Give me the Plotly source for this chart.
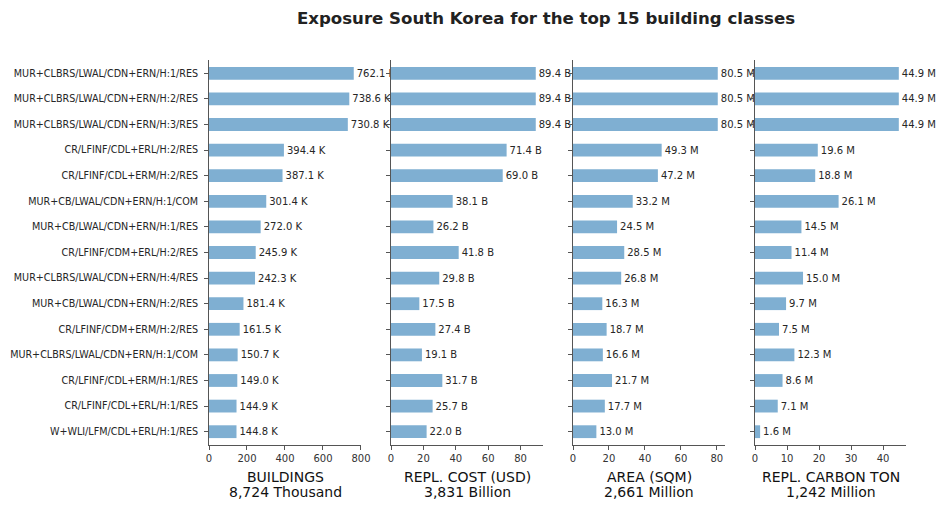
import plotly.graph_objects as go

categories = [
    "MUR+CLBRS/LWAL/CDN+ERN/H:1/RES",
    "MUR+CLBRS/LWAL/CDN+ERN/H:2/RES",
    "MUR+CLBRS/LWAL/CDN+ERN/H:3/RES",
    "CR/LFINF/CDL+ERL/H:2/RES",
    "CR/LFINF/CDL+ERM/H:2/RES",
    "MUR+CB/LWAL/CDN+ERN/H:1/COM",
    "MUR+CB/LWAL/CDN+ERN/H:1/RES",
    "CR/LFINF/CDM+ERL/H:2/RES",
    "MUR+CLBRS/LWAL/CDN+ERN/H:4/RES",
    "MUR+CB/LWAL/CDN+ERN/H:2/RES",
    "CR/LFINF/CDM+ERM/H:2/RES",
    "MUR+CLBRS/LWAL/CDN+ERN/H:1/COM",
    "CR/LFINF/CDL+ERM/H:1/RES",
    "CR/LFINF/CDL+ERL/H:1/RES",
    "W+WLI/LFM/CDL+ERL/H:1/RES",
]

buildings_k = [762.1, 738.6, 730.8, 394.4, 387.1, 301.4, 272.0, 245.9, 242.3, 181.4, 161.5, 150.7, 149.0, 144.9, 144.8]
cost_b = [89.4, 89.4, 89.4, 71.4, 69.0, 38.1, 26.2, 41.8, 29.8, 17.5, 27.4, 19.1, 31.7, 25.7, 22.0]
area_m = [80.5, 80.5, 80.5, 49.3, 47.2, 33.2, 24.5, 28.5, 26.8, 16.3, 18.7, 16.6, 21.7, 17.7, 13.0]
carbon_m = [44.9, 44.9, 44.9, 19.6, 18.8, 26.1, 14.5, 11.4, 15.0, 9.7, 7.5, 12.3, 8.6, 7.1, 1.6]

panel_titles = ["BUILDINGS", "REPL. COST (USD)", "AREA (SQM)", "REPL. CARBON TON"]
panel_totals = ["8,724 Thousand", "3,831 Billion", "2,661 Million", "1,242 Million"]
units = ["K", "B", "M", "M"]
x_ticks = [[0, 200, 400, 600, 800], [0, 20, 40, 60, 80], [0, 20, 40, 60, 80], [0, 10, 20, 30, 40]]
series = [buildings_k, cost_b, area_m, carbon_m]

W, H = 943, 510
ml, mr, mt, mb = 209, 37, 60, 65
pw = W - ml - mr
ph = H - mt - mb
panel_px = [(209, 361), (391, 543), (573, 725), (755, 906)]

BAR = "#7FAFD2"
TXT = "#262626"
AX = "#555555"
FONT = "DejaVu Sans"

fig = go.Figure()
for i, (vals, unit) in enumerate(zip(series, units)):
    xa = "x" if i == 0 else f"x{i+1}"
    ya = "y" if i == 0 else f"y{i+1}"
    fig.add_trace(go.Bar(
        x=vals, y=categories, orientation="h", width=0.5,
        marker=dict(color=BAR, line=dict(width=0)),
        text=[f"{v:.1f} {unit}" for v in vals],
        textposition="outside", cliponaxis=False, constraintext="none",
        textfont=dict(family=FONT, size=10, color=TXT),
        xaxis=xa, yaxis=ya, showlegend=False, hoverinfo="x+y",
    ))
    x0, x1 = panel_px[i]
    dom = [(x0 - ml) / pw, min(1.0, (x1 - ml) / pw)]
    xmax = max(vals) * 1.05
    xkey = "xaxis" if i == 0 else f"xaxis{i+1}"
    ykey = "yaxis" if i == 0 else f"yaxis{i+1}"
    fig.layout[xkey] = dict(
        domain=dom, anchor=ya, range=[0, xmax], automargin=False,
        tickvals=x_ticks[i], ticks="outside", ticklen=4, tickwidth=1, tickcolor=AX,
        showline=True, linecolor=AX, linewidth=1, showgrid=False, zeroline=False,
        tickfont=dict(family=FONT, size=10, color="#333333"),
    )
    fig.layout[ykey] = dict(
        anchor=xa, domain=[0, 1], range=[14.52, -0.52], automargin=False,
        categoryorder="array", categoryarray=categories,
        ticks="outside", ticklen=4, tickwidth=1, tickcolor=AX,
        showline=True, linecolor=AX, linewidth=1, showgrid=False, zeroline=False,
        showticklabels=(i == 0), ticklabelstandoff=4,
        tickfont=dict(family=FONT, size=9.6, color="#262626"),
    )
    cx = ((x0 + x1) / 2 - ml) / pw
    for txt, ypx in ((panel_titles[i], 477), (panel_totals[i], 492)):
        fig.add_annotation(
            text=txt, xref="paper", yref="paper", x=cx, y=(H - mb - ypx) / ph,
            xanchor="center", yanchor="middle", showarrow=False,
            font=dict(family=FONT, size=14, color="#111111"),
        )

fig.update_layout(
    width=W, height=H,
    margin=dict(l=ml, r=mr, t=mt, b=mb),
    plot_bgcolor="white", paper_bgcolor="white",
    title=dict(text="<b>Exposure South Korea for the top 15 building classes</b>",
               x=546 / W, xanchor="center", y=1 - 18 / H, yanchor="middle",
               xref="container",
               font=dict(family=FONT, size=16.6, color="#222222")),
)

fig.write_html("out.html")
